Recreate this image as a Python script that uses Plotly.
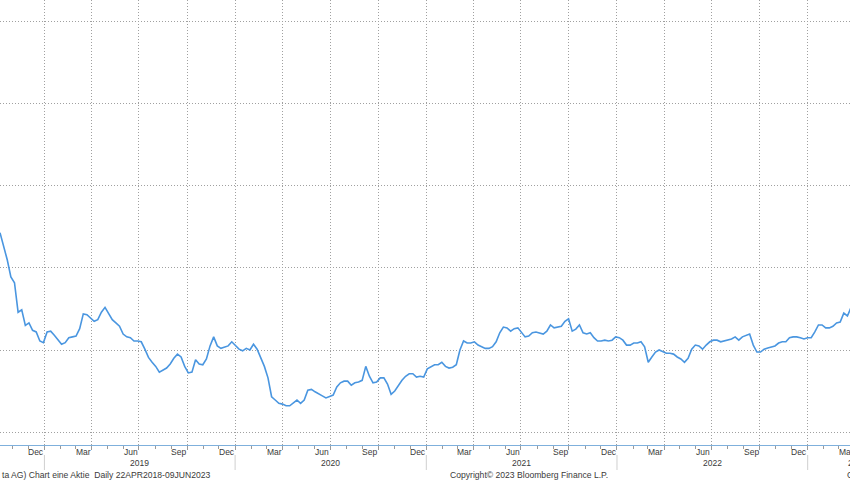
import pandas as pd
import plotly.graph_objects as go

# ---- data ----
start_date = "2018-10-08"
end_date = "2023-03-25"
price = [
    44.3, 42.8, 41.0, 38.9, 38.2, 34.6, 34.9, 33.0, 33.3, 32.4,
    32.2, 31.1, 30.9, 32.2, 32.3, 31.8, 31.2, 30.7, 30.9, 31.5,
    31.6, 31.7, 32.6, 34.4, 34.3, 33.9, 33.5, 33.7, 34.6, 35.2,
    34.4, 33.7, 33.3, 32.9, 31.95, 31.6, 31.5, 31.1, 31.1, 31.0,
    30.1, 29.1, 28.5, 28.0, 27.3, 27.6, 27.8, 28.3, 29.0, 29.5,
    29.15, 28.0, 27.2, 27.3, 28.8, 28.3, 28.2, 28.9, 30.5, 31.6,
    30.5, 30.2, 30.4, 30.5, 31.0, 30.6, 30.1, 29.9, 30.2, 30.0,
    30.7, 30.1, 29.0, 28.0, 26.6, 24.3, 23.9, 23.5, 23.4, 23.2,
    23.2, 23.5, 23.9, 23.5, 23.9, 25.1, 25.2, 24.9, 24.6, 24.4,
    24.15, 24.3, 24.5, 25.5, 26.0, 26.2, 26.2, 25.7, 26.0, 26.1,
    26.3, 28.0, 26.8, 26.0, 26.1, 26.6, 26.6, 25.85, 24.6, 25.0,
    25.7, 26.3, 26.8, 27.1, 27.1, 26.7, 26.8, 26.7, 27.7, 28.0,
    28.2, 28.2, 28.5, 28.0, 27.8, 27.9, 28.2, 30.0, 31.1, 30.85,
    30.85, 31.0, 30.6, 30.4, 30.2, 30.2, 30.4, 31.0, 32.1, 32.8,
    32.7, 32.3, 32.6, 32.7, 32.1, 31.6, 31.7, 32.1, 32.2, 32.1,
    31.95, 32.3, 33.05, 32.7, 32.8, 32.9, 33.5, 33.8, 32.3, 32.55,
    33.05, 32.1, 31.95, 32.1, 31.5, 31.1, 31.1, 31.2, 31.1, 31.2,
    31.6, 31.5, 31.2, 30.6, 30.6, 30.85, 30.85, 31.0, 30.4, 28.5,
    29.15, 29.75, 30.0, 29.75, 29.6, 29.6, 29.5, 29.15, 28.9, 28.5,
    29.0, 30.1, 30.6, 30.5, 30.1, 30.6, 31.0, 31.2, 31.2, 31.0,
    31.1, 31.2, 31.35, 31.6, 31.2, 31.6, 31.8, 31.95, 30.6, 29.75,
    29.75, 30.1, 30.25, 30.4, 30.5, 30.85, 31.0, 31.0, 31.5, 31.6,
    31.6, 31.5, 31.35, 31.5, 31.5, 32.2, 33.05, 33.05, 32.7, 32.7,
    32.9, 33.3, 33.4, 34.5, 34.15, 35.2,
]
x_range = ["2018-10-08", "2023-03-23"]
y_range = [18.415, 72.68]
y_grid = [20, 30, 40, 50, 60, 70]
grid_dates = ["2019-01-01", "2019-04-01", "2019-07-01", "2019-10-01",
              "2020-01-01", "2020-04-01", "2020-07-01", "2020-10-01",
              "2021-01-01", "2021-04-01", "2021-07-01", "2021-10-01",
              "2022-01-01", "2022-04-01", "2022-07-01", "2022-10-01",
              "2023-01-01", "2023-04-01"]
month_labels = ["Dec", "Mar", "Jun", "Sep"] * 4 + ["Dec", "Mar"]
month_label_dates = ["2018-12-16", "2019-03-16", "2019-06-15", "2019-09-15",
                     "2019-12-16", "2020-03-16", "2020-06-15", "2020-09-15",
                     "2020-12-16", "2021-03-16", "2021-06-15", "2021-09-15",
                     "2021-12-16", "2022-03-16", "2022-06-15", "2022-09-15",
                     "2022-12-16", "2023-03-16"]
year_labels = ["2019", "2020", "2021", "2022", "2023"]
year_label_dates = ["2019-07-02", "2020-07-02", "2021-07-02", "2022-07-02", "2023-04-06"]
year_sep_dates = ["2019-01-01", "2020-01-01", "2021-01-01", "2022-01-01", "2023-01-01"]
footer_left = "ta AG) Chart eine Aktie  Daily 22APR2018-09JUN2023"
footer_mid = "Copyright\u00a9 2023 Bloomberg Finance L.P."
footer_right = "C"

dates = pd.date_range(start_date, end_date, periods=len(price))

W, H = 850, 480
B = 35
PLOT_H = H - B
x0 = pd.Timestamp(x_range[0])
x1 = pd.Timestamp(x_range[1])


def to_paper_x(d):
    return (pd.Timestamp(d) - x0) / (x1 - x0)


def px_to_paper_y(py):
    return 1 - py / PLOT_H


FONT = "Liberation Sans, Arial, sans-serif"
TXT = "#3a3a3a"
GRID = "#a0a0a0"

fig = go.Figure()
fig.add_trace(go.Scatter(x=dates, y=price, mode="lines",
                         line=dict(color="#4a96e0", width=1.6),
                         hoverinfo="skip", showlegend=False))

annotations = []
for lab, d in zip(month_labels, month_label_dates):
    annotations.append(dict(x=to_paper_x(d), y=px_to_paper_y(452), xref="paper", yref="paper",
                            text=lab, showarrow=False, xanchor="center", yanchor="middle",
                            font=dict(family=FONT, size=8.5, color=TXT)))
for lab, d in zip(year_labels, year_label_dates):
    annotations.append(dict(x=to_paper_x(d), y=px_to_paper_y(463), xref="paper", yref="paper",
                            text=lab, showarrow=False, xanchor="center", yanchor="middle",
                            font=dict(family=FONT, size=8.5, color=TXT)))
annotations.append(dict(x=0, y=px_to_paper_y(475), xref="paper", yref="paper",
                        text=footer_left, showarrow=False, xanchor="left", yanchor="middle",
                        font=dict(family=FONT, size=8.6, color=TXT)))
annotations.append(dict(x=448 / W, y=px_to_paper_y(475), xref="paper", yref="paper",
                        text=footer_mid, showarrow=False, xanchor="left", yanchor="middle",
                        font=dict(family=FONT, size=8.6, color=TXT)))
annotations.append(dict(x=845 / W, y=px_to_paper_y(475), xref="paper", yref="paper",
                        text=footer_right, showarrow=False, xanchor="left", yanchor="middle",
                        font=dict(family=FONT, size=8.6, color=TXT)))

shapes = []
for d in year_sep_dates:
    shapes.append(dict(type="line", xref="x", yref="paper", x0=d, x1=d,
                       y0=px_to_paper_y(455), y1=px_to_paper_y(470),
                       line=dict(color="#cfcfcf", width=1)))

fig.update_layout(
    width=W, height=H,
    margin=dict(l=0, r=0, t=0, b=B, pad=0),
    paper_bgcolor="white", plot_bgcolor="white",
    showlegend=False,
    annotations=annotations,
    shapes=shapes,
    xaxis=dict(
        type="date", range=x_range,
        tickvals=grid_dates, showticklabels=False,
        showgrid=True, gridcolor=GRID, griddash="1px,2px", gridwidth=1,
        ticks="outside", ticklen=4, tickcolor="#9a9a9a",
        minor=dict(tick0="2018-01-01", dtick="M1", ticks="outside", ticklen=3,
                   tickcolor="#9a9a9a", showgrid=False),
        showline=True, linecolor="#7fb0dc", linewidth=1,
        zeroline=False, fixedrange=True,
    ),
    yaxis=dict(
        range=y_range, tickvals=y_grid, showticklabels=False,
        showgrid=True, gridcolor=GRID, griddash="1px,2px", gridwidth=1,
        zeroline=False, showline=False, ticks="", fixedrange=True,
    ),
)

fig.write_html("out.html", config={"displayModeBar": False},
               post_script="document.body.style.margin='0';document.body.style.overflow='hidden';")
